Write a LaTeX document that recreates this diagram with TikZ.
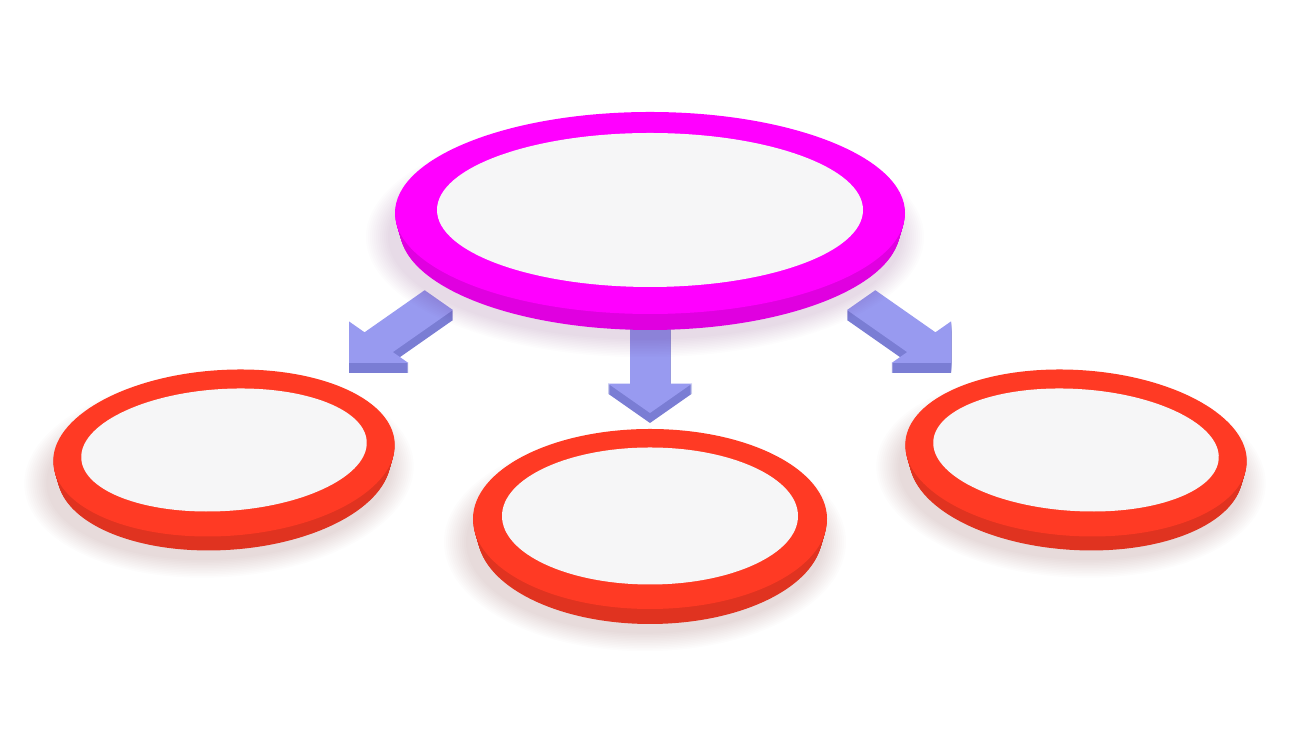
\documentclass[tikz,border=0pt]{standalone}
\usetikzlibrary{calc}

\definecolor{hubring}{RGB}{255,0,255}
\definecolor{leafring}{RGB}{255,58,36}
\definecolor{arrowface}{RGB}{152,154,240}
\definecolor{arrowside}{RGB}{122,125,212}
\definecolor{platefill}{RGB}{246,246,247}

% #1 centre, #2 rx, #3 ry, #4 ring width, #5 thickness, #6 tilt, #7 colour, #8 inner ry cut
\newcommand{\platering}[8]{%
  \foreach \k in {1,...,12}
    \fill[#7!45!black, opacity=0.012, shift={($(#1)+(-5,-#5-8)$)}, rotate=#6] (0,0) ellipse ({#2+2*\k} and {#3+1.6*\k});
  \foreach \d in {1,...,#5}
    \fill[#7!88!black, shift={($(#1)+(0,-\d)$)}, rotate=#6] (0,0) ellipse ({#2-0.3*\d} and #3);
  \fill[#7, shift={(#1)}, rotate=#6] (0,0) ellipse (#2 and #3);
  \fill[platefill, shift={($(#1)+(0,3)$)}, rotate=#6] (0,0) ellipse ({#2-#4} and {#3-#8});
}

% #1 tip, #2 direction, #3 shaft length
\newcommand{\blockarrow}[3]{%
  \foreach \d in {1,...,10}
    \fill[arrowside, shift={($(#1)+(0,-\d)$)}, yscale=0.7, rotate=#2]
      (0,0) -- (-42,42) -- (-42,20) -- ({-42-#3},20) -- ({-42-#3},-20) -- (-42,-20) -- (-42,-42) -- cycle;
  \fill[arrowface, shift={(#1)}, yscale=0.7, rotate=#2]
    (0,0) -- (-42,42) -- (-42,20) -- ({-42-#3},20) -- ({-42-#3},-20) -- (-42,-20) -- (-42,-42) -- cycle;
}

\begin{document}
\begin{tikzpicture}[x=0.01cm, y=0.01cm]
	\fill[white] (0,0) rectangle (1300,731);
	\useasboundingbox (0,0) rectangle (1300,731);

	\coordinate (hub) at (650,518);
	\coordinate (leftplate) at (224,278);
	\coordinate (midplate) at (650,212);
	\coordinate (rightplate) at (1076,278);

	\coordinate (lefttip) at (349,368);
	\coordinate (midtip) at (650,318);
	\coordinate (righttip) at (951,368);

	% arrows
	\blockarrow{lefttip}{225}{85}
	\blockarrow{midtip}{-90}{90}
	\blockarrow{righttip}{-45}{85}

	% plates
	\platering{leftplate}{171}{83}{28}{14}{3.5}{leafring}{22}
	\platering{rightplate}{171}{83}{28}{14}{-3.5}{leafring}{22}
	\platering{midplate}{177}{90}{29}{15}{0}{leafring}{21.5}
	\platering{hub}{255}{101}{42}{16}{0}{hubring}{24}
\end{tikzpicture}
\end{document}
